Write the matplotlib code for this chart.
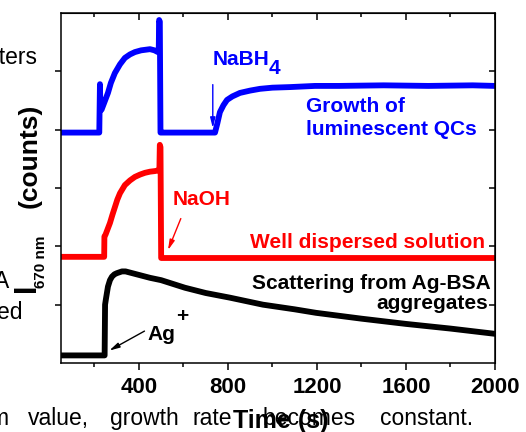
import matplotlib
matplotlib.use("Agg")
import matplotlib.pyplot as plt
from matplotlib.ticker import MultipleLocator

plt.rcParams["font.family"] = ["Liberation Sans", "DejaVu Sans"]

# traces (stacked, arbitrary offset units)
blue_t = [50, 222, 225, 227, 232, 243, 261, 274, 292, 315, 337, 360, 382, 410, 450,
          470, 485, 489, 491, 494, 497, 500, 742, 752, 764, 780, 796, 820, 854, 900,
          944, 1000, 1079, 1191, 1300, 1500, 1700, 1900, 2000]
blue_y = [3.95, 3.95, 4.78, 4.35, 4.34, 4.45, 4.63, 4.80, 4.97, 5.12, 5.23, 5.29, 5.33,
          5.36, 5.38, 5.36, 5.33, 5.33, 5.88, 5.85, 3.95, 3.95, 3.95, 4.10, 4.30, 4.42,
          4.51, 4.57, 4.63, 4.67, 4.70, 4.72, 4.73, 4.75, 4.75, 4.76, 4.75, 4.76, 4.75]

red_t = [50, 244, 245, 250, 258, 270, 281, 292, 303, 315, 337, 360, 382, 405, 427,
         450, 472, 485, 492, 494, 497, 500, 1000, 1500, 2000]
red_y = [1.82, 1.82, 2.17, 2.20, 2.28, 2.40, 2.54, 2.67, 2.80, 2.91, 3.05, 3.13, 3.19,
         3.23, 3.26, 3.28, 3.29, 3.30, 3.30, 3.74, 3.70, 1.80, 1.80, 1.80, 1.80]

black_t = [50, 246, 248, 252, 261, 270, 279, 290, 301, 324, 340, 360, 400, 450, 500,
           607, 700, 809, 957, 1100, 1196, 1400, 1600, 1800, 2000]
black_y = [0.13, 0.13, 1.00, 1.10, 1.31, 1.42, 1.48, 1.52, 1.54, 1.57, 1.57, 1.55,
           1.51, 1.46, 1.42, 1.29, 1.20, 1.12, 1.00, 0.92, 0.86, 0.76, 0.67, 0.59, 0.50]

x_ticks = [400, 800, 1200, 1600, 2000]

W, H = 526, 432
fig = plt.figure(figsize=(W / 100, H / 100), dpi=100)
ax = fig.add_axes([61 / W, 1 - 363 / H, (495 - 61) / W, (363 - 13) / H])


def fx(px):
    return px / W


def fy(py):
    return 1 - py / H


# stray text from the surrounding page
body = dict(fontsize=16.5, color="black", va="baseline")
fig.text(fx(37), fy(64), "aters", ha="right", **body)
fig.text(fx(9), fy(288), "A", ha="right", **body)
fig.text(fx(22), fy(319), "ed", ha="right", **body)
fig.text(fx(-11), fy(425), "m", ha="left", **body)
fig.text(fx(28), fy(425), "value,", ha="left", **body)
fig.text(fx(110), fy(425), "growth", ha="left", **body)
fig.text(fx(192), fy(425), "rate", ha="left", **body)
fig.text(fx(263), fy(425), "becomes", ha="left", **body)
fig.text(fx(380), fy(425), "constant.", ha="left", **body)

ax.plot(blue_t, blue_y, color="#0000ff", lw=4.2, solid_joinstyle="round")
ax.plot(red_t, red_y, color="#ff0000", lw=4.2, solid_joinstyle="round")
ax.plot(black_t, black_y, color="black", lw=4.2, solid_joinstyle="round")

ax.set_xlim(50, 2000)
ax.set_ylim(0, 6)
ax.set_xticks(x_ticks)
ax.xaxis.set_minor_locator(MultipleLocator(200))
ax.set_yticks([1, 2, 3, 4, 5])
ax.set_yticklabels([])
ax.tick_params(axis="x", which="major", direction="out", length=5, width=1.1,
               labelsize=16, pad=5)
ax.tick_params(axis="x", which="minor", direction="out", length=3, width=1.1)
ax.tick_params(axis="y", direction="out", length=4, width=1.1)
for lab in ax.get_xticklabels():
    lab.set_fontweight("bold")
for s in ax.spines.values():
    s.set_linewidth(1.1)

# mirrored ticks on top/right, pointing inward
sec_x = ax.secondary_xaxis("top")
sec_x.set_xticks(x_ticks)
sec_x.xaxis.set_minor_locator(MultipleLocator(200))
sec_x.set_xticklabels([])
sec_x.tick_params(which="major", direction="in", length=5, width=1.1)
sec_x.tick_params(which="minor", direction="in", length=3, width=1.1)
sec_y = ax.secondary_yaxis("right")
sec_y.set_yticks([1, 2, 3, 4, 5])
sec_y.set_yticklabels([])
sec_y.tick_params(direction="in", length=4, width=1.1)

lab = dict(fontsize=15, fontweight="bold", va="baseline")
ax.text(732, 5.11, "NaBH", color="#0000ff", ha="left", **lab)
ax.text(984, 4.95, "4", color="#0000ff", ha="left", **lab)
ax.annotate("", xy=(732, 3.98), xytext=(732, 4.82),
            arrowprops=dict(arrowstyle="-|>,head_width=0.15,head_length=0.6",
                            color="#0000ff", lw=1))
ax.text(1150, 4.30, "Growth of", color="#0000ff", ha="left", **lab)
ax.text(1150, 3.91, "luminescent QCs", color="#0000ff", ha="left", **lab)

ax.text(553, 2.71, "NaOH", color="#ff0000", ha="left", **lab)
ax.annotate("", xy=(526, 1.89), xytext=(593, 2.52),
            arrowprops=dict(arrowstyle="-|>,head_width=0.15,head_length=0.6",
                            color="#ff0000", lw=1))
ax.text(1955, 1.97, "Well dispersed solution", color="#ff0000", ha="right", **lab)

ax.text(1982, 1.27, "Scattering from Ag-BSA", color="black", ha="right", **lab)
ax.text(1968, 0.93, "aggregates", color="black", ha="right", **lab)
ax.text(440, 0.39, "Ag", color="black", ha="left", **lab)
ax.text(567, 0.80, "+", color="black", ha="left", va="center", fontsize=15,
        fontweight="bold")
ax.annotate("", xy=(256, 0.19), xytext=(436, 0.57),
            arrowprops=dict(arrowstyle="-|>,head_width=0.15,head_length=0.6",
                            color="black", lw=1))

# y label built from pieces
fig.text(fx(42), fy(156), "(counts)", rotation=90, ha="right", va="center",
         fontsize=19, fontweight="bold")
fig.text(fx(48), fy(262), "670 nm", rotation=90, ha="right", va="center",
         fontsize=11, fontweight="bold")
fig.text(fx(42), fy(288), "I", rotation=90, ha="right", va="center",
         fontsize=22, fontweight="bold")

# x label
fig.text(fx(233), fy(428), "Time (s)", ha="left", va="baseline",
         fontsize=18, fontweight="bold")

fig.savefig("out.png", dpi=100)
